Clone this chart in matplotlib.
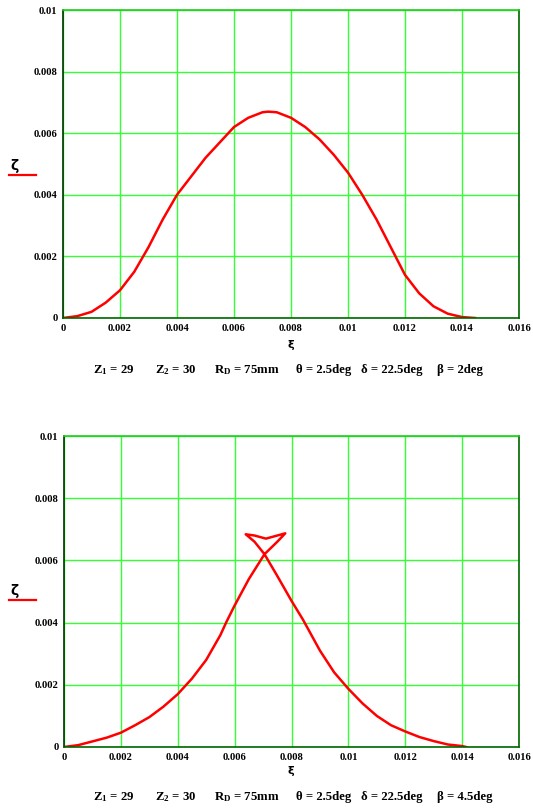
import matplotlib
matplotlib.use("Agg")
import matplotlib.pyplot as plt

plt.rcParams['font.family'] = ['Liberation Serif', 'DejaVu Serif']
plt.rcParams['font.weight'] = 'bold'
plt.rcParams['mathtext.fontset'] = 'custom'
plt.rcParams['mathtext.rm'] = 'Liberation Serif:bold'
plt.rcParams['mathtext.it'] = 'Liberation Serif:bold'
plt.rcParams['mathtext.bf'] = 'Liberation Serif:bold'

# ---- data ----
xticks = [0, 0.002, 0.004, 0.006, 0.008, 0.01, 0.012, 0.014, 0.016]
xtick_labels = ["0", "0.002", "0.004", "0.006", "0.008", "0.01", "0.012", "0.014", "0.016"]
yticks = [0, 0.002, 0.004, 0.006, 0.008, 0.01]
ytick_labels = ["0", "0.002", "0.004", "0.006", "0.008", "0.01"]

xi_top = [0, 0.0005, 0.001, 0.0015, 0.002, 0.0025, 0.00275, 0.003, 0.0035, 0.004,
          0.0045, 0.005, 0.0055, 0.006, 0.0065, 0.007, 0.0072, 0.0075, 0.008, 0.0085,
          0.009, 0.0095, 0.010, 0.0105, 0.011, 0.0115, 0.012, 0.0125, 0.013, 0.0135,
          0.014, 0.01446]
zeta_top = [0, 0.00006, 0.0002, 0.0005, 0.0009, 0.0015, 0.0019, 0.0023, 0.0032, 0.0040,
            0.0046, 0.0052, 0.0057, 0.0062, 0.0065, 0.00668, 0.0067, 0.00668, 0.0065, 0.0062,
            0.0058, 0.0053, 0.00472, 0.0040, 0.0032, 0.0023, 0.0014, 0.0008, 0.00038, 0.00014,
            0.00003, 0]

xi_bot = [0, 0.0005, 0.001, 0.0015, 0.002, 0.0025, 0.003, 0.0035, 0.004, 0.0043,
          0.0045, 0.005, 0.0055, 0.0057, 0.006, 0.0065, 0.00705, 0.0075, 0.00778,
          0.0075, 0.0071, 0.0067, 0.00639,
          0.0067, 0.00705, 0.0075, 0.008, 0.0084, 0.009, 0.0095, 0.010, 0.0105,
          0.011, 0.0115, 0.012, 0.0125, 0.013, 0.0135, 0.014, 0.01414]
zeta_bot = [0, 0.00006, 0.00018, 0.0003, 0.00046, 0.0007, 0.00096, 0.0013, 0.0017, 0.002,
            0.0022, 0.0028, 0.0036, 0.004, 0.00455, 0.0054, 0.0062, 0.0066, 0.00687,
            0.0068, 0.0067, 0.0068, 0.00684,
            0.0066, 0.0062, 0.0055, 0.0047, 0.0041, 0.0031, 0.0024, 0.00187, 0.0014,
            0.001, 0.0007, 0.0005, 0.00032, 0.00019, 0.00008, 0.00003, 0]

params_top = [r"Z$_1$ = 29", r"Z$_2$ = 30", r"R$_\mathrm{D}$ = 75mm", "θ = 2.5deg", "δ = 22.5deg", "β = 2deg"]
params_bot = [r"Z$_1$ = 29", r"Z$_2$ = 30", r"R$_\mathrm{D}$ = 75mm", "θ = 2.5deg", "δ = 22.5deg", "β = 4.5deg"]
param_x = [93, 155, 214, 296, 361, 437]

W, H = 533, 809
fig = plt.figure(figsize=(W / 100, H / 100), dpi=100)

def px(x0, y0, x1, y1):
    return [x0 / W, 1 - y1 / H, (x1 - x0) / W, (y1 - y0) / H]

def make_axes(rect, xi, zeta, ylab_y, xlab_y, ptxt, py):
    ax = fig.add_axes(px(*rect))
    ax.plot(xi, zeta, color='#ff0000', lw=1.8, solid_joinstyle='round')
    ax.set_xlim(0, 0.016)
    ax.set_ylim(0, 0.01)
    ax.set_xticks(xticks)
    ax.set_xticklabels(xtick_labels)
    ax.set_yticks(yticks)
    ax.set_yticklabels(ytick_labels)
    ax.tick_params(length=0, labelsize=7.6, pad=4)
    ax.grid(True, color='#33ff33', lw=1.0)
    ax.set_axisbelow(True)
    ax.spines['left'].set_color('#003300')
    ax.spines['bottom'].set_color('#006600')
    ax.spines['right'].set_color('#006600')
    ax.spines['top'].set_color('#22cc22')
    for s in ax.spines.values():
        s.set_linewidth(1.2)
    fig.text(14 / W, 1 - ylab_y / H, "ζ", fontsize=10, ha='center', va='center',
             family=['DejaVu Sans'], weight='bold')
    fig.add_artist(plt.Line2D([9 / W, 36 / W], [1 - (ylab_y + 9) / H] * 2,
                              color='#ff0000', lw=1.6))
    fig.text(291 / W, 1 - xlab_y / H, "ξ", fontsize=8, ha='center', va='center',
             family=['DejaVu Sans'], weight='bold')
    for t, x in zip(ptxt, param_x):
        fig.text(x / W, 1 - py / H, t, fontsize=9.2, ha='left', va='center')
    return ax

make_axes((63, 10, 519, 318), xi_top, zeta_top, 166, 345, params_top, 370)
make_axes((64, 436, 519, 747), xi_bot, zeta_bot, 591, 771, params_bot, 797)

fig.savefig("out.png", dpi=100)
